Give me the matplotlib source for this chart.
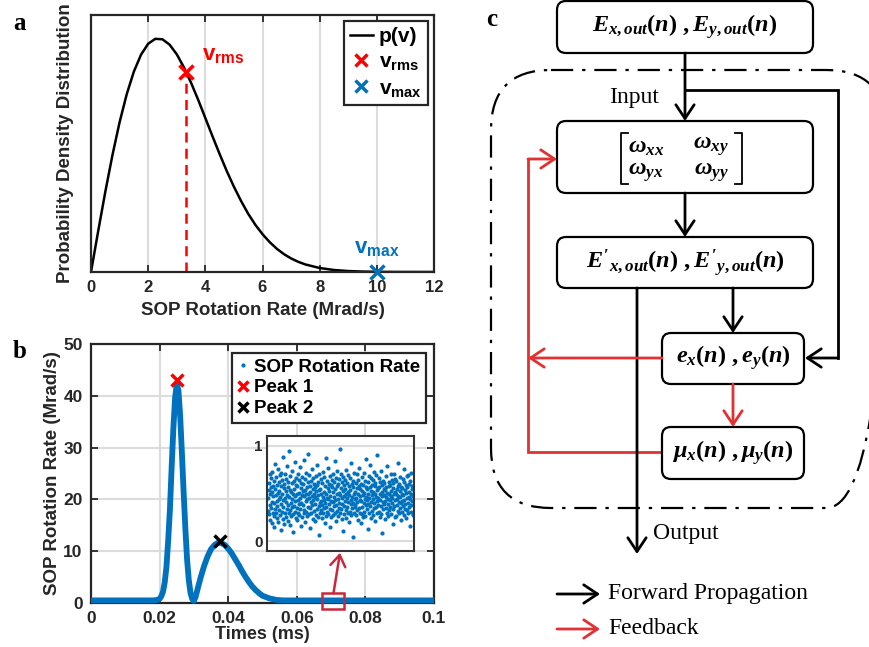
import numpy as np
import matplotlib
matplotlib.use("Agg")
import matplotlib.pyplot as plt
from matplotlib.patches import FancyBboxPatch, Rectangle
from matplotlib.lines import Line2D

plt.rcParams['font.family'] = ['Liberation Sans', 'DejaVu Sans']
plt.rcParams['font.weight'] = 'bold'
plt.rcParams['axes.labelweight'] = 'bold'
plt.rcParams['mathtext.fontset'] = 'custom'
plt.rcParams['mathtext.rm'] = 'Liberation Serif:bold'
plt.rcParams['mathtext.it'] = 'Liberation Serif:italic:bold'
plt.rcParams['mathtext.bf'] = 'Liberation Serif:bold'
plt.rcParams['mathtext.sf'] = 'Liberation Sans:bold'

BLUE = '#0072BD'
RED = '#FF0000'
DRED = '#C8283C'
FRED = '#E03232'
INK = '#262626'

# ---- panel a : pdf of SOP rotation rate (relative units, peak = 1) ----
rate_a = [0, 0.25, 0.5, 0.75, 1.0, 1.25, 1.5, 1.75, 2.0, 2.25, 2.5, 2.75,
          3.0, 3.25, 3.5, 3.75, 4.0, 4.25, 4.5, 4.75, 5.0, 5.25, 5.5, 5.75,
          6.0, 6.25, 6.5, 6.75, 7.0, 7.25, 7.5, 8.0, 8.5, 9.0, 9.5, 10.0,
          10.5, 11.0, 12.0]
pdf_a = [0, 0.174, 0.343, 0.500, 0.641, 0.761, 0.858, 0.930, 0.977, 0.998,
         0.996, 0.973, 0.932, 0.876, 0.810, 0.737, 0.659, 0.581, 0.505,
         0.432, 0.365, 0.304, 0.249, 0.202, 0.162, 0.128, 0.0995, 0.0765,
         0.0581, 0.0436, 0.0323, 0.0171, 0.0086, 0.0041, 0.0019, 0.0008,
         0.0003, 0.0001, 0]
v_rms = 3.32
p_rms = 0.856
v_max = 10.0

# ---- panel b : SOP rotation rate vs time ----
times_b = [0, 0.010, 0.018, 0.0195, 0.020, 0.0205, 0.021, 0.0215, 0.022,
           0.0225, 0.023, 0.0235, 0.024, 0.0245, 0.025, 0.0255, 0.026,
           0.0265, 0.027, 0.0275, 0.028, 0.0285, 0.029, 0.0295, 0.030,
           0.0305, 0.031, 0.032, 0.033, 0.034, 0.035, 0.036, 0.037, 0.038,
           0.039, 0.040, 0.041, 0.042, 0.043, 0.044, 0.045, 0.046, 0.047,
           0.048, 0.049, 0.050, 0.052, 0.054, 0.056, 0.060, 0.080, 0.100]
sop_b = [0.5, 0.5, 0.5, 0.6, 0.8, 1.3, 2.2, 4.0, 7.0, 12.0, 18.0, 26.0,
         33.5, 39.5, 42.3, 41.0, 36.0, 29.0, 21.5, 14.5, 8.5, 4.5, 2.0,
         0.8, 0.4, 1.2, 2.5, 5.0, 7.2, 9.0, 10.4, 11.2, 11.6, 11.6, 11.2,
         10.5, 9.6, 8.5, 7.4, 6.2, 5.1, 4.1, 3.2, 2.5, 1.9, 1.4, 0.9, 0.6,
         0.5, 0.5, 0.5, 0.5]
peak1 = (0.025, 43.0)
peak2 = (0.0377, 12.0)
zoom_window = (0.0673, 0.0738)

# zoomed-in samples (hundredths of Mrad/s)
zoom_vals = [
    45, 32, 61, 28, 54, 70, 38, 22, 49, 57, 35, 66, 41, 19, 52, 73, 30, 47, 58, 26,
    63, 40, 15, 55, 34, 81, 48, 29, 67, 42, 24, 59, 37, 76, 51, 20, 44, 62, 33, 53,
    27, 69, 46, 12, 58, 39, 72, 31, 50, 64, 23, 43, 88, 36, 56, 18, 60, 45, 30, 71,
    41, 25, 53, 65, 34, 48, 79, 21, 57, 38, 62, 29, 46, 95, 33, 54, 17, 68, 40, 26,
    52, 74, 36, 44, 61, 28, 50, 9, 63, 37, 55, 42, 83, 31, 47, 24, 59, 66, 35, 49,
    22, 58, 43, 70, 30, 51, 39, 64, 27, 45, 78, 34, 56, 16, 61, 40, 48, 25, 67, 53,
    38, 60, 29, 47, 85, 33, 54, 20, 65, 42, 50, 31, 72, 44, 26, 57, 36, 92, 49, 62,
    28, 45, 69, 35, 52, 14, 58, 41, 63, 30, 47, 76, 38, 55, 23, 66, 43, 50, 32, 60,
    46, 21, 57, 39, 68, 27, 53, 44, 80, 34, 59, 25, 48, 62, 37, 6, 54, 71, 40, 30,
    55, 42, 65, 33, 49, 24, 61, 38, 46, 73, 29, 52, 35, 67, 43, 19, 58, 40, 87, 26,
    50, 36, 63, 45, 31, 56, 77, 28, 44, 60, 39, 53, 15, 68, 34, 47, 25, 59, 42, 64,
    33, 57, 41, 70, 27, 52, 46, 62, 37, 84, 30, 55, 43, 21, 66, 38, 49, 74, 32, 58,
    44, 26, 60, 35, 51, 65, 40, 97, 29, 48, 56, 34, 71, 45, 23, 62, 39, 53, 11, 67,
    37, 59, 47, 28, 64, 42, 55, 33, 75, 50, 24, 61, 36, 45, 69, 30, 52, 41, 58, 20,
    48, 66, 31, 54, 39, 82, 43, 27, 60, 46, 35, 57, 4, 63, 40, 50, 29, 72, 44, 36,
    52, 38, 61, 27, 45, 70, 33, 56, 41, 64, 22, 49, 58, 35, 77, 43, 30, 55, 47, 19,
    60, 42, 28, 53, 36, 67, 48, 25, 59, 40, 72, 31, 51, 44, 63, 26, 57, 38, 86, 46,
    34, 55, 43, 13, 62, 39, 50, 68, 29, 45, 57, 37, 80, 24, 53, 41, 66, 32, 48, 59,
    27, 64, 44, 52, 35, 73, 40, 58, 21, 49, 61, 36, 46, 69, 30, 54, 42, 90, 38, 56,
    45, 31, 57, 66, 25, 50, 43, 62, 37, 74, 28, 52, 47, 8, 59, 34, 63, 41, 55, 39,
    61, 48, 23, 54, 42, 35, 68, 46, 57, 30, 51, 79, 39, 44, 26, 62, 50, 33, 58, 43,
    36, 59, 47, 71, 28, 53, 40, 64, 45, 18, 56, 34, 61, 49, 37, 70, 25, 52, 43, 65,
    49, 26, 63, 38, 55, 44, 82, 32, 58, 47, 29, 60, 41, 53, 67, 35, 46, 22, 57, 40,
    31, 56, 42, 50, 65, 37, 48, 27, 62, 43, 76, 34, 54, 39, 59, 24, 51, 45, 68, 33,
    57, 40, 69, 29, 46, 52, 36, 60, 44, 16, 63, 38, 49, 72, 31, 55, 42, 58, 27, 47,
]

W, H = 869, 647
fig = plt.figure(figsize=(W / 100, H / 100), dpi=100)


def px_axes(x0, y0, x1, y1):
    return fig.add_axes([x0 / W, 1 - y1 / H, (x1 - x0) / W, (y1 - y0) / H])


def style_axes(ax, size=12):
    for s in ax.spines.values():
        s.set_linewidth(1.6)
        s.set_color(INK)
    ax.tick_params(direction='in', width=1.3, length=5, top=True, right=True,
                   labelsize=size, colors=INK, pad=6)
    for lab in ax.get_xticklabels() + ax.get_yticklabels():
        lab.set_fontweight('bold')


# ---------------- panel a ----------------
axa = px_axes(91, 15, 434, 272)
axa.plot(rate_a, pdf_a, color='black', lw=1.8, label='p(v)')
axa.plot([v_rms, v_rms], [0, p_rms], color=RED, lw=1.8, ls=(0, (4, 2.5)))
axa.plot([v_rms], [p_rms], 'x', color=RED, ms=10, mew=2.5)
axa.plot([v_max], [0], 'x', color=BLUE, ms=10, mew=2.5, clip_on=False, zorder=5)
axa.text(v_rms + 0.55, p_rms + 0.03, r'$\mathsf{v}_{\mathsf{rms}}$', color=RED,
         fontsize=16, va='bottom', ha='left')
axa.text(v_max, 0.06, r'$\mathsf{v}_{\mathsf{max}}$', color=BLUE,
         fontsize=16, va='bottom', ha='center')
axa.set_xlim(0, 12)
axa.set_ylim(0, 1.1)
axa.set_xticks(range(0, 13, 2))
axa.set_yticks([])
axa.grid(axis='x', color='#DCDCDC', lw=1.5)
axa.set_axisbelow(True)
axa.set_xlabel('SOP Rotation Rate (Mrad/s)', fontsize=13.5, color=INK, labelpad=5)
axa.set_ylabel('Probability Density Distribution', fontsize=13.5, color=INK, labelpad=12)
style_axes(axa)
handles_a = [Line2D([], [], color='black', lw=1.8),
             Line2D([], [], marker='x', color=RED, ls='none', ms=8, mew=2.5),
             Line2D([], [], marker='x', color=BLUE, ls='none', ms=8, mew=2.5)]
leg = axa.legend(handles_a, ['p(v)', r'$\mathsf{v}_{\mathsf{rms}}$', r'$\mathsf{v}_{\mathsf{max}}$'],
                 loc='upper right', bbox_to_anchor=(0.983, 0.977), borderaxespad=0,
                 fancybox=False, framealpha=1, edgecolor=INK, fontsize=15,
                 handlelength=1.1, handletextpad=0.3, labelspacing=0.3,
                 borderpad=0.3)
leg.get_frame().set_linewidth(1.6)

# ---------------- panel b ----------------
axb = px_axes(91, 344, 434, 603)
axb.plot(times_b, sop_b, color=BLUE, lw=4.2, solid_joinstyle='round',
         solid_capstyle='butt', clip_on=False, zorder=3)
axb.plot([peak1[0]], [peak1[1]], 'x', color=RED, ms=9, mew=2.5, zorder=4)
axb.plot([peak2[0]], [peak2[1]], 'x', color='black', ms=9, mew=2.5, zorder=4)
axb.set_xlim(0, 0.1)
axb.set_ylim(0, 50)
axb.set_xticks([0, 0.02, 0.04, 0.06, 0.08, 0.1])
axb.set_xticklabels(['0', '0.02', '0.04', '0.06', '0.08', '0.1'])
axb.set_yticks(range(0, 51, 10))
axb.grid(color='#DCDCDC', lw=1.5)
axb.set_axisbelow(True)
axb.set_xlabel('Times (ms)', fontsize=13, color=INK, labelpad=0)
axb.set_ylabel('SOP Rotation Rate (Mrad/s)', fontsize=13.5, color=INK, labelpad=2)
style_axes(axb, size=12.5)
handles_b = [Line2D([], [], marker='.', color=BLUE, ls='none', ms=4),
             Line2D([], [], marker='x', color=RED, ls='none', ms=7, mew=2.5),
             Line2D([], [], marker='x', color='black', ls='none', ms=7, mew=2.5)]
leg = axb.legend(handles_b, ['SOP Rotation Rate', 'Peak 1', 'Peak 2'],
                 loc='upper right', bbox_to_anchor=(0.977, 0.966), borderaxespad=0,
                 fancybox=False, framealpha=1, edgecolor=INK, fontsize=13.5,
                 handlelength=0.6, handletextpad=0.3, labelspacing=0.2,
                 borderpad=0.3)
leg.get_frame().set_linewidth(1.6)

# zoom window marker + arrow
axb.add_patch(Rectangle((zoom_window[0], -1.1), zoom_window[1] - zoom_window[0], 3.0,
                        fill=False, ec=DRED, lw=1.8, clip_on=False, zorder=6))
axb.annotate('', xy=(0.0726, 9.7), xytext=(0.0707, 1.9),
             arrowprops=dict(arrowstyle='->,head_length=0.45,head_width=0.3',
                             color=DRED, lw=1.8, shrinkA=0, shrinkB=0,
                             mutation_scale=18), zorder=6)

# inset
axi = px_axes(267, 436, 414, 551)
zx = np.linspace(zoom_window[0], zoom_window[1], len(zoom_vals))
axi.plot(zx, np.array(zoom_vals) / 100.0, '.', color=BLUE, ms=4)
axi.set_xlim(zoom_window[0] - 0.00005, zoom_window[1] + 0.00005)
axi.set_ylim(-0.105, 1.105)
axi.set_xticks([])
axi.set_yticks([0, 1])
axi.grid(axis='y', color='#DCDCDC', lw=1.5)
axi.set_axisbelow(True)
for s in axi.spines.values():
    s.set_linewidth(1.5)
    s.set_color('#333333')
axi.tick_params(direction='in', length=0, labelsize=11, colors=INK, pad=3)
for lab in axi.get_yticklabels():
    lab.set_fontweight('bold')

# ---------------- panel c : block diagram (pixel coords) ----------------
ov = fig.add_axes([0, 0, 1, 1], zorder=-1)
ov.set_xlim(0, W)
ov.set_ylim(H, 0)
ov.axis('off')
ov.patch.set_visible(False)

SERIF = ['Liberation Serif', 'DejaVu Serif']
for letter, x, y in [('a', 19, 24), ('b', 20, 352), ('c', 492, 19)]:
    ov.text(x, y, letter, family=SERIF, fontsize=18, weight='bold',
            ha='center', va='center')

ov.add_patch(FancyBboxPatch((491, 70), 395, 438,
                            boxstyle='round,pad=0,rounding_size=60',
                            fill=False, ec='black', lw=1.6,
                            ls=(0, (10, 4, 1.5, 4))))

boxes = [(557, 1, 813, 53), (557, 121, 813, 193), (557, 237, 813, 288),
         (662, 333, 804, 384), (662, 427, 804, 479)]
for x0, y0, x1, y1 in boxes:
    ov.add_patch(FancyBboxPatch((x0, y0), x1 - x0, y1 - y0,
                                boxstyle='round,pad=0,rounding_size=9',
                                fill=True, fc='white', ec='black', lw=1.6, zorder=3))

MS = 17.5
ov.text(685, 27, r'$E_{x,out}(n)\ ,E_{y,out}(n)$', fontsize=MS, ha='center', va='center', zorder=4)
ov.text(685, 262, r"$E'_{x,out}(n)\ ,E'_{y,out}(n)$", fontsize=MS, ha='center', va='center', zorder=4)
ov.text(733, 358, r'$e_x(n)\ ,e_y(n)$', fontsize=MS, ha='center', va='center', zorder=4)
ov.text(733, 453, r'$\mu_x(n)\ ,\mu_y(n)$', fontsize=MS, ha='center', va='center', zorder=4)
# matrix entries and brackets
for txt, x, y in [(r'$\omega_{xx}$', 646, 146), (r'$\omega_{xy}$', 711, 146),
                  (r'$\omega_{yx}$', 646, 172), (r'$\omega_{yy}$', 711, 172)]:
    ov.text(x, y, txt, fontsize=MS, ha='center', va='center', zorder=4)
ov.plot([628, 621, 621, 628], [133, 133, 184, 184], color='black', lw=1.3, zorder=4)
ov.plot([735, 742, 742, 735], [133, 133, 184, 184], color='black', lw=1.3, zorder=4)


def arrow(p0, p1, color='black'):
    ov.annotate('', xy=p1, xytext=p0,
                arrowprops=dict(arrowstyle='->,head_length=0.45,head_width=0.3',
                                color=color, lw=2.0, shrinkA=0, shrinkB=0,
                                mutation_scale=22), zorder=5)


def line(xs, ys, color='black'):
    ov.plot(xs, ys, color=color, lw=2.0, solid_joinstyle='miter', zorder=2)


arrow((685, 53), (685, 121))
line([685, 838, 838], [90, 90, 358])
arrow((838, 358), (805, 358))
arrow((685, 193), (685, 237))
arrow((637, 288), (637, 554))
arrow((733, 288), (733, 333))
arrow((733, 384), (733, 427), FRED)
arrow((662, 358), (528, 358), FRED)
line([662, 528, 528], [452, 452, 159], FRED)
arrow((528, 159), (557, 159), FRED)

TS = 17
ov.text(634, 97, 'Input', family=SERIF, fontsize=TS, weight='normal',
        ha='center', va='center')
ov.text(653, 533, 'Output', family=SERIF, fontsize=TS, weight='normal',
        ha='left', va='center')
arrow((557, 594), (600, 594))
arrow((557, 629), (600, 629), FRED)
ov.text(608, 594, 'Forward Propagation', family=SERIF, fontsize=TS,
        weight='normal', ha='left', va='center')
ov.text(608, 629, 'Feedback', family=SERIF, fontsize=TS, weight='normal',
        ha='left', va='center')

fig.savefig('out.png', dpi=100)
